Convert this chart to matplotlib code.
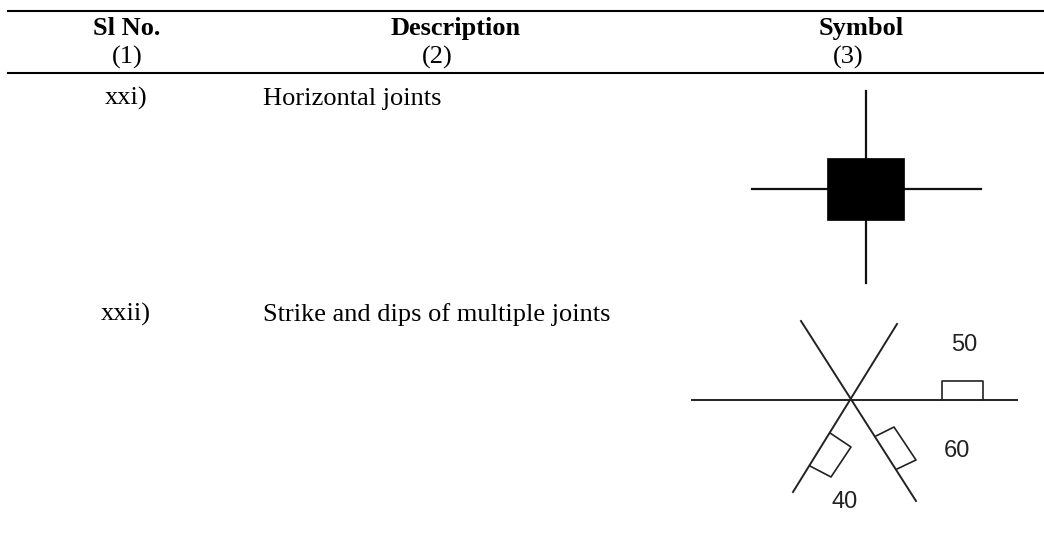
import matplotlib
matplotlib.use('Agg')
import matplotlib.pyplot as plt
from matplotlib.patches import Polygon

plt.rcParams['font.family'] = ['Liberation Serif', 'DejaVu Serif']

headers = ['Sl No.', 'Description', 'Symbol']
col_numbers = ['(1)', '(2)', '(3)']
row_ids = ['xxi)', 'xxii)']
descriptions = ['Horizontal joints', 'Strike and dips of multiple joints']

# symbol xxi, image pixels
cross_v = ([866, 866], [91, 283])
cross_h = ([752, 981], [189, 189])
block = [(827, 158), (904, 158), (904, 220), (827, 220)]

# symbol xxii, image pixels
strike_lines = [
    ([692, 1017], [400, 400]),
    ([801, 916], [321, 501]),
    ([897, 793], [324, 492]),
]
dip_boxes = [
    [(942, 400), (942, 381), (983, 381), (983, 400)],
    [(876, 436), (894, 427), (916, 460), (897, 469)],
    [(830, 433), (851, 447), (831, 477), (810, 466)],
]
dip_labels = ['50', '60', '40']
dip_label_pos = [(964, 351), (957, 457), (845, 508)]

fig = plt.figure(figsize=(10.44, 5.34), dpi=100)
ax = fig.add_axes([0, 0, 1, 1])
ax.set_xlim(0, 1044)
ax.set_ylim(534, 0)
ax.axis('off')

# table rules
ax.plot([8, 1044], [11, 11], color='black', lw=1.5)
ax.plot([8, 1044], [73, 73], color='black', lw=1.5)

# the column numbers sit left of their headers in cols 2 and 3
header_x = [127, 456, 861]
number_x = [127, 437, 848]
for x, h in zip(header_x, headers):
    ax.text(x, 35, h, ha='center', va='baseline', fontsize=19, fontweight='bold')
for x, n in zip(number_x, col_numbers):
    ax.text(x, 64, n, ha='center', va='baseline', fontsize=19)

row_y = [105, 321]
for y, r, d in zip(row_y, row_ids, descriptions):
    ax.text(126, y, r, ha='center', va='baseline', fontsize=19)
    ax.text(263, y, d, ha='left', va='baseline', fontsize=19)

# symbol xxi, block goes over the cross
ax.plot(*cross_v, color='#111111', lw=1.6)
ax.plot(*cross_h, color='#111111', lw=1.6)
ax.add_patch(Polygon(block, closed=True, facecolor='black', edgecolor='black', lw=0.5, zorder=3))

# symbol xxii
for xs, ys in strike_lines:
    ax.plot(xs, ys, color='#222222', lw=1.4)
for box in dip_boxes:
    xs, ys = zip(*box)
    ax.plot(xs, ys, color='#222222', lw=1.2)
for label, (x, y) in zip(dip_labels, dip_label_pos):
    ax.text(x, y, label, ha='center', va='baseline', fontsize=17,
            family=['Liberation Sans', 'DejaVu Sans'], color='#222222')

fig.savefig('out.png', dpi=100, facecolor='white')
